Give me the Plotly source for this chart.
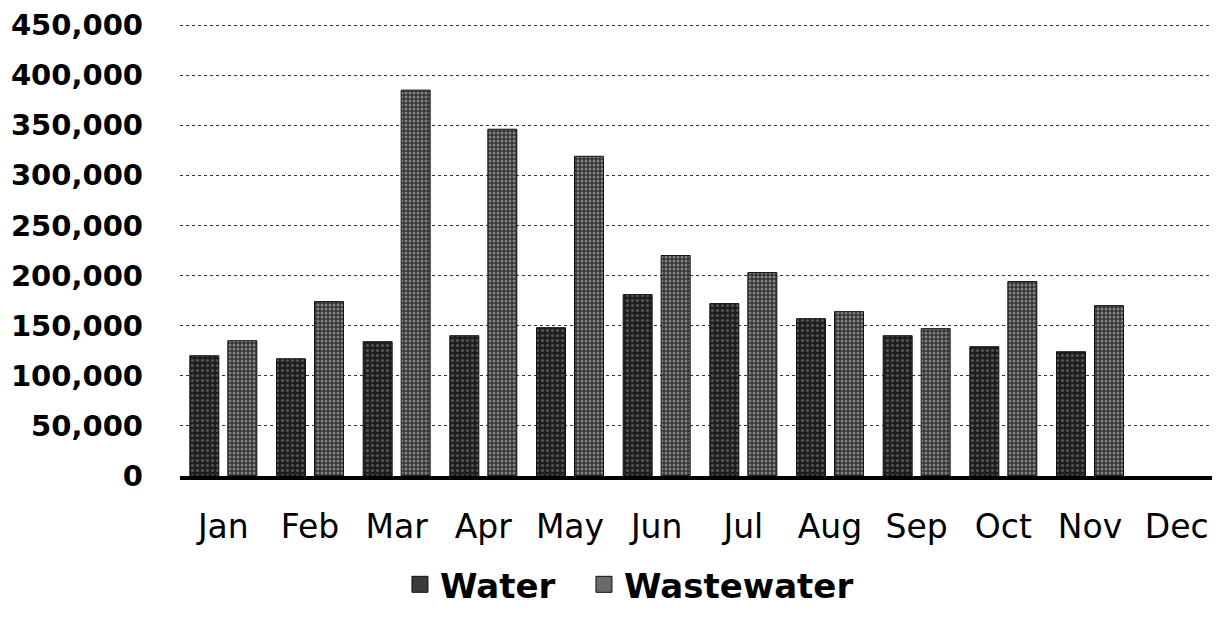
import plotly.graph_objects as go

months = ["Jan", "Feb", "Mar", "Apr", "May", "Jun", "Jul", "Aug", "Sep", "Oct", "Nov", "Dec"]
water = [120000, 117000, 134000, 140000, 148000, 181000, 172000, 157000, 140000, 129000, 124000, None]
wastewater = [135000, 174000, 385000, 346000, 319000, 220000, 203000, 164000, 147000, 194000, 170000, None]
y_ticks = [0, 50000, 100000, 150000, 200000, 250000, 300000, 350000, 400000, 450000]
y_tick_labels = ["0", "50,000", "100,000", "150,000", "200,000", "250,000",
                 "300,000", "350,000", "400,000", "450,000"]

water_color = "#242424"
waste_color = "#3c3c3c"
water_pattern = dict(shape=".", fgcolor="#8c8c8c", bgcolor="#1e1e1e", size=5, solidity=0.3)
waste_pattern = dict(shape=".", fgcolor="#d2d2d2", bgcolor="#333333", size=4, solidity=0.45)

fig = go.Figure()
fig.add_trace(go.Bar(
    name="Water", x=months, y=water, showlegend=False,
    marker=dict(color=water_color, line=dict(color="#111111", width=1), pattern=water_pattern),
))
fig.add_trace(go.Bar(
    name="Wastewater", x=months, y=wastewater, showlegend=False,
    marker=dict(color=waste_color, line=dict(color="#111111", width=1), pattern=waste_pattern),
))
# legend entries with larger square swatches
fig.add_trace(go.Scatter(
    name="Water\u00a0\u00a0", x=[None], y=[None], mode="markers",
    marker=dict(symbol="square", size=16, color="#3a3a3a", line=dict(color="#111111", width=1)),
))
fig.add_trace(go.Scatter(
    name="Wastewater", x=[None], y=[None], mode="markers",
    marker=dict(symbol="square", size=16, color="#6a6a6a", line=dict(color="#111111", width=1)),
))

fig.update_layout(
    width=1212, height=610,
    margin=dict(l=172, r=0, t=15, b=142, autoexpand=False),
    paper_bgcolor="white", plot_bgcolor="white",
    barmode="group", bargap=0.123, bargroupgap=0.237,
    showlegend=True,
    legend=dict(orientation="h", x=0.2115, xanchor="left", y=-0.24, yanchor="middle",
                font=dict(family="DejaVu Sans", size=34, color="black", weight="bold"),
                itemsizing="trace", traceorder="normal", itemwidth=30),
    font=dict(family="DejaVu Sans", color="black"),
)
fig.update_yaxes(
    range=[0, 452000], tickvals=y_ticks, ticktext=y_tick_labels,
    tickfont=dict(family="DejaVu Sans", size=29, color="black", weight="bold"),
    showgrid=True, gridcolor="#333333", gridwidth=1, griddash="dot",
    zeroline=False, showline=False, ticks="", ticklabelstandoff=36,
)
fig.update_xaxes(
    tickfont=dict(family="DejaVu Sans", size=33, color="black"),
    showline=True, linecolor="black", linewidth=4, ticks="", ticklabelstandoff=18,
)

fig.write_html("out.html")
